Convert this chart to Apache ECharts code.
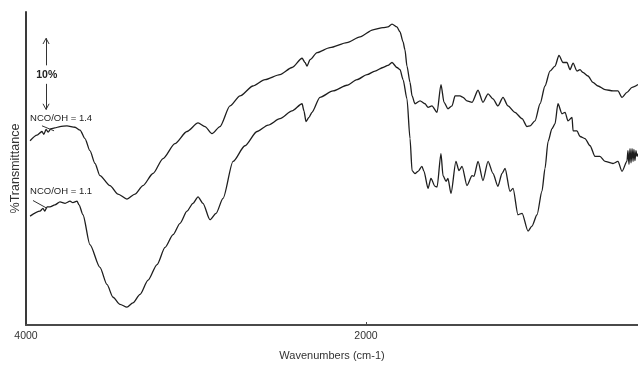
<!DOCTYPE html>
<html>
<head>
<meta charset="utf-8">
<script src="https://cdn.jsdelivr.net/npm/echarts@6/dist/echarts.min.js"></script>
<style>
html,body{margin:0;padding:0;background:#fff;}
#chart{width:638px;height:366px;}
</style>
</head>
<body>
<div id="chart"></div>
<script>
// Wavenumbers (cm-1) and % transmittance (arbitrary offset), NCO/OH = 1.4
var wnA = [3976,3935,3906,3895,3882,3870,3853,3830,3800,3759,3712,3682,3653,3624,3594,3565,3506,3459,3406,3359,3312,3253,3194,3124,3053,2988,2947,2906,2859,2800,2741,2665,2594,2506,2435,2376,2359,2347,2329,2288,2212,2112,2035,1959,1900,1871,1847,1818,1800,1782,1771,1759,1741,1729,1712,1682,1653,1635,1612,1582,1559,1541,1518,1494,1476,1447,1429,1406,1376,1341,1312,1282,1253,1224,1194,1165,1124,1082,1053,1035,1006,976,947,918,888,865,841,818,800,782,759,741,724,694,665,635,594,547,518,494,465,435,400];
var tA  = [25.9,26.7,27.2,26.8,27.5,27.1,27.6,27.7,27.9,28.0,27.8,27.4,26.2,24.5,22.7,21.0,19.6,18.4,17.7,18.4,19.6,21.3,23.4,25.5,27.2,28.4,27.9,26.9,27.9,30.8,32.2,33.6,34.5,35.2,36.2,37.5,36.9,36.4,37.3,38.3,39.0,39.7,40.5,41.5,41.8,41.9,42.3,41.9,41.2,39.8,38.7,36.4,34.1,32.2,31.1,31.5,31.1,30.6,30.8,29.9,33.8,31.3,30.4,30.8,32.2,32.2,32.0,31.5,31.3,33.0,31.3,32.5,31.8,30.8,32.0,30.8,29.9,29.0,27.9,28.0,28.7,31.1,33.6,35.7,36.4,37.9,36.9,36.9,35.9,36.8,35.7,35.9,35.5,35.0,34.1,33.6,33.1,32.9,32.9,32.0,32.7,33.4,33.8];

// NCO/OH = 1.1
var wnB = [3976,3918,3900,3890,3876,3859,3830,3800,3770,3741,3724,3700,3688,3665,3624,3565,3524,3488,3447,3406,3371,3329,3282,3229,3182,3135,3094,3053,3018,2988,2959,2918,2882,2841,2782,2712,2641,2576,2506,2435,2376,2365,2353,2335,2318,2271,2194,2112,2053,1994,1947,1900,1871,1847,1818,1800,1782,1759,1741,1729,1712,1694,1671,1659,1635,1618,1594,1582,1559,1547,1529,1518,1500,1471,1453,1435,1406,1376,1365,1341,1312,1282,1253,1224,1200,1182,1153,1135,1106,1082,1047,1024,994,965,947,929,906,888,871,847,829,812,788,782,759,741,712,682,653,624,594,547,518,494,465,459,453,447,441,435,429,424,418,412,406,400];
var tB  = [15.3,16.0,16.4,16.0,16.6,16.6,16.9,17.3,17.1,17.4,17.2,17.4,16.9,15.5,11.3,8.1,5.7,3.9,2.9,2.5,3.1,4.3,6.3,8.5,10.9,12.7,14.3,16.0,17.1,18.0,17.1,14.8,15.7,17.8,23.0,25.2,27.2,28.1,29.0,30.1,31.1,30.1,28.6,29.2,29.9,32.0,32.9,33.7,34.5,35.2,35.7,36.2,36.5,36.9,36.2,35.9,34.5,31.8,26.2,21.7,21.3,21.6,22.3,21.6,19.2,20.6,19.5,19.4,24.1,21.0,20.2,20.6,18.5,23.0,21.7,22.3,19.6,21.0,20.9,23.0,20.3,23.0,21.3,19.5,21.3,22.0,18.8,19.2,15.5,15.7,13.2,13.9,15.5,18.8,22.0,25.8,27.6,28.3,31.1,29.7,29.9,28.7,29.2,27.3,27.3,26.5,26.2,25.2,23.7,23.7,23.0,22.7,23.0,21.6,23.0,24.5,22.6,24.8,22.8,24.8,23.0,24.7,23.1,24.5,23.7,24.1];

var xLabels = [4000, 2000];
var labelA = 'NCO/OH = 1.4';
var labelB = 'NCO/OH = 1.1';
var scaleText = '10%';

function pairs(x, y){ return x.map(function(v,i){ return [v, y[i]]; }); }

var FONT = 'Liberation Sans, Arial, sans-serif';
var INK = '#1e1e1e';

var chart = echarts.init(document.getElementById('chart'), null, {renderer:'canvas'});
chart.setOption({
  animation: false,
  backgroundColor: '#ffffff',
  grid: {left: 26, right: 0, top: 12, bottom: 38},
  xAxis: {
    type: 'value', inverse: true, min: 400, max: 4000,
    name: 'Wavenumbers (cm-1)', nameLocation: 'middle', nameGap: 25,
    nameTextStyle: {fontFamily: FONT, fontSize: 11, color: '#333'},
    axisLine: {show: true, onZero: false, lineStyle: {color: '#4a4a4a', width: 2}},
    axisTick: {show: true, inside: true, length: 3, customValues: [2000], lineStyle: {color: '#4a4a4a'}},
    axisLabel: {customValues: xLabels, formatter: function(v){ return String(v); },
                fontFamily: FONT, fontSize: 10.5, color: '#333', margin: 6},
    splitLine: {show: false}
  },
  yAxis: {
    type: 'value', min: 0, max: 44,
    name: '%Transmittance', nameLocation: 'middle', nameGap: 4,
    nameTextStyle: {fontFamily: FONT, fontSize: 12.5, color: '#333'},
    axisLine: {show: true, onZero: false, lineStyle: {color: '#3a3a3a', width: 2}},
    axisTick: {show: false}, axisLabel: {show: false}, splitLine: {show: false}
  },
  series: [
    {
      type: 'line', data: pairs(wnA, tA), showSymbol: false, symbol: 'none',
      smooth: 0.25, smoothMonotone: 'x',
      lineStyle: {color: INK, width: 1.3}, z: 3,
      markLine: {
        silent: true, symbol: ['none','none'], label: {show: false},
        lineStyle: {color: '#333', width: 1, type: 'solid'},
        data: [
          [{coord: [3882, 40.3]}, {coord: [3882, 36.5]}],
          [{coord: [3882, 33.9]}, {coord: [3882, 30.3]}],
          [{coord: [3882, 40.3]}, {coord: [3900, 39.5]}],
          [{coord: [3882, 40.3]}, {coord: [3864, 39.5]}],
          [{coord: [3882, 30.3]}, {coord: [3900, 31.1]}],
          [{coord: [3882, 30.3]}, {coord: [3864, 31.1]}],
          [{coord: [3906, 28.0]}, {coord: [3835, 27.3]}]
        ]
      },
      markPoint: {
        silent: true,
        data: [
          {coord: [3976, 29.0], symbol: 'circle', symbolSize: 0,
           label: {show: true, position: 'right', distance: 0, formatter: labelA,
                   fontFamily: FONT, fontSize: 9.5, color: '#222'}},
          {coord: [3878, 35.1], symbol: 'circle', symbolSize: 0,
           label: {show: true, position: 'inside', formatter: scaleText,
                   fontFamily: FONT, fontSize: 10.5, fontWeight: 'bold', color: '#222'}}
        ]
      }
    },
    {
      type: 'line', data: pairs(wnB, tB), showSymbol: false, symbol: 'none',
      smooth: 0.25, smoothMonotone: 'x',
      lineStyle: {color: INK, width: 1.3}, z: 3,
      markLine: {
        silent: true, symbol: ['none','none'], label: {show: false},
        lineStyle: {color: '#333', width: 1, type: 'solid'},
        data: [
          [{coord: [3959, 17.5]}, {coord: [3876, 16.4]}]
        ]
      },
      markPoint: {
        silent: true,
        data: [
          {coord: [3976, 18.8], symbol: 'circle', symbolSize: 0,
           label: {show: true, position: 'right', distance: 0, formatter: labelB,
                   fontFamily: FONT, fontSize: 9.5, color: '#222'}}
        ]
      }
    }
  ]
});
</script>
</body>
</html>
